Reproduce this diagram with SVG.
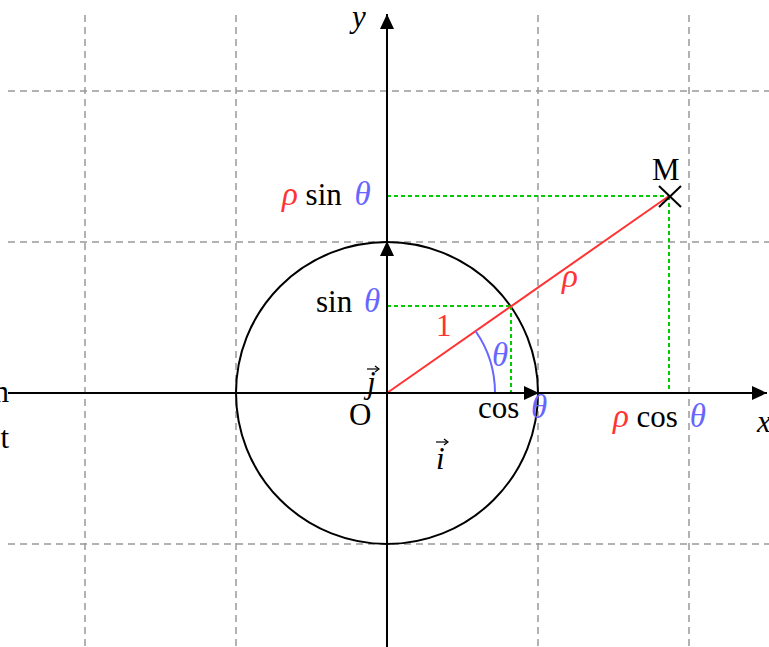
<svg xmlns="http://www.w3.org/2000/svg" width="769" height="647" viewBox="0 0 769 647">
<style>
.grid{stroke:#999;stroke-width:1.5;stroke-dasharray:7 5;fill:none}
.ax{stroke:#000;stroke-width:2;fill:none}
.dot{stroke:#00cc00;stroke-width:2;stroke-dasharray:4 3;fill:none}
text{font-family:"Liberation Serif","Times New Roman",serif;font-size:31px;fill:#000}
.it{font-style:italic}
.r{fill:#ff3333}
.b{fill:#6666ff}
.t{font-size:33px}
</style>
<defs>
<marker id="ah" markerWidth="15" markerHeight="14" refX="15" refY="7" orient="auto" markerUnits="userSpaceOnUse">
<path d="M0,0 L15,7 L0,14 Z" fill="#000"/>
</marker>
</defs>
<g id="grid">
<line class="grid" x1="85" y1="15" x2="85" y2="647"/>
<line class="grid" x1="236" y1="15" x2="236" y2="647"/>
<line class="grid" x1="538" y1="15" x2="538" y2="647"/>
<line class="grid" x1="689" y1="15" x2="689" y2="647"/>
<line class="grid" x1="8" y1="91" x2="769" y2="91"/>
<line class="grid" x1="8" y1="242" x2="769" y2="242"/>
<line class="grid" x1="8" y1="544" x2="769" y2="544"/>
</g>
<g id="circle"><circle cx="387" cy="393" r="151" fill="none" stroke="#000" stroke-width="2"/></g>
<g id="connectors">
<line class="dot" x1="387" y1="196" x2="669" y2="196"/>
<line class="dot" x1="669" y1="196" x2="669" y2="393"/>
<line class="dot" x1="387" y1="306" x2="511" y2="306"/>
<line class="dot" x1="511" y1="306" x2="511" y2="393"/>
<line x1="387" y1="393" x2="669" y2="196" stroke="#ff3333" stroke-width="2"/>
<path d="M475.5,331 A108,108 0 0 1 495,393" fill="none" stroke="#6666ff" stroke-width="2"/>
<line class="ax" x1="8" y1="393" x2="767" y2="393" marker-end="url(#ah)"/>
<line class="ax" x1="387" y1="647" x2="387" y2="14" marker-end="url(#ah)"/>
<line class="ax" x1="387" y1="393" x2="539" y2="393" marker-end="url(#ah)"/>
<line class="ax" x1="387" y1="393" x2="387" y2="241" marker-end="url(#ah)"/>
<line x1="659" y1="186" x2="681" y2="207" stroke="#000" stroke-width="2"/>
<line x1="681" y1="186" x2="659" y2="207" stroke="#000" stroke-width="2"/>
</g>
<g id="labels">
<text x="9" y="402" text-anchor="end">m</text>
<text x="9" y="448" text-anchor="end">t</text>
<text x="352" y="27" class="it">y</text>
<text x="757" y="432" class="it">x</text>
<text x="349" y="425">O</text>
<text x="652" y="180">M</text>
<text x="367" y="393" class="it">j</text>
<line x1="367" y1="369" x2="378" y2="369" stroke="#000" stroke-width="1.2"/>
<path d="M375,366 L379,369 L375,372" fill="none" stroke="#000" stroke-width="1.2"/>
<text x="436" y="469" class="it">i</text>
<line x1="436" y1="442" x2="447" y2="442" stroke="#000" stroke-width="1.2"/>
<path d="M444,439 L448,442 L444,445" fill="none" stroke="#000" stroke-width="1.2"/>
<text x="282" y="205"><tspan class="it r t">ρ</tspan> sin <tspan class="it b t" dx="5">θ</tspan></text>
<text x="316" y="312">sin <tspan class="it b t" dx="4">θ</tspan></text>
<text x="478" y="418">cos <tspan class="it b t" dx="4">θ</tspan></text>
<text x="613" y="427"><tspan class="it r t">ρ</tspan> cos <tspan class="it b t" dx="4">θ</tspan></text>
<text x="436" y="336" class="r">1</text>
<text x="492" y="366" class="it b t">θ</text>
<text x="562" y="287" class="it r t">ρ</text>
</g>
</svg>
